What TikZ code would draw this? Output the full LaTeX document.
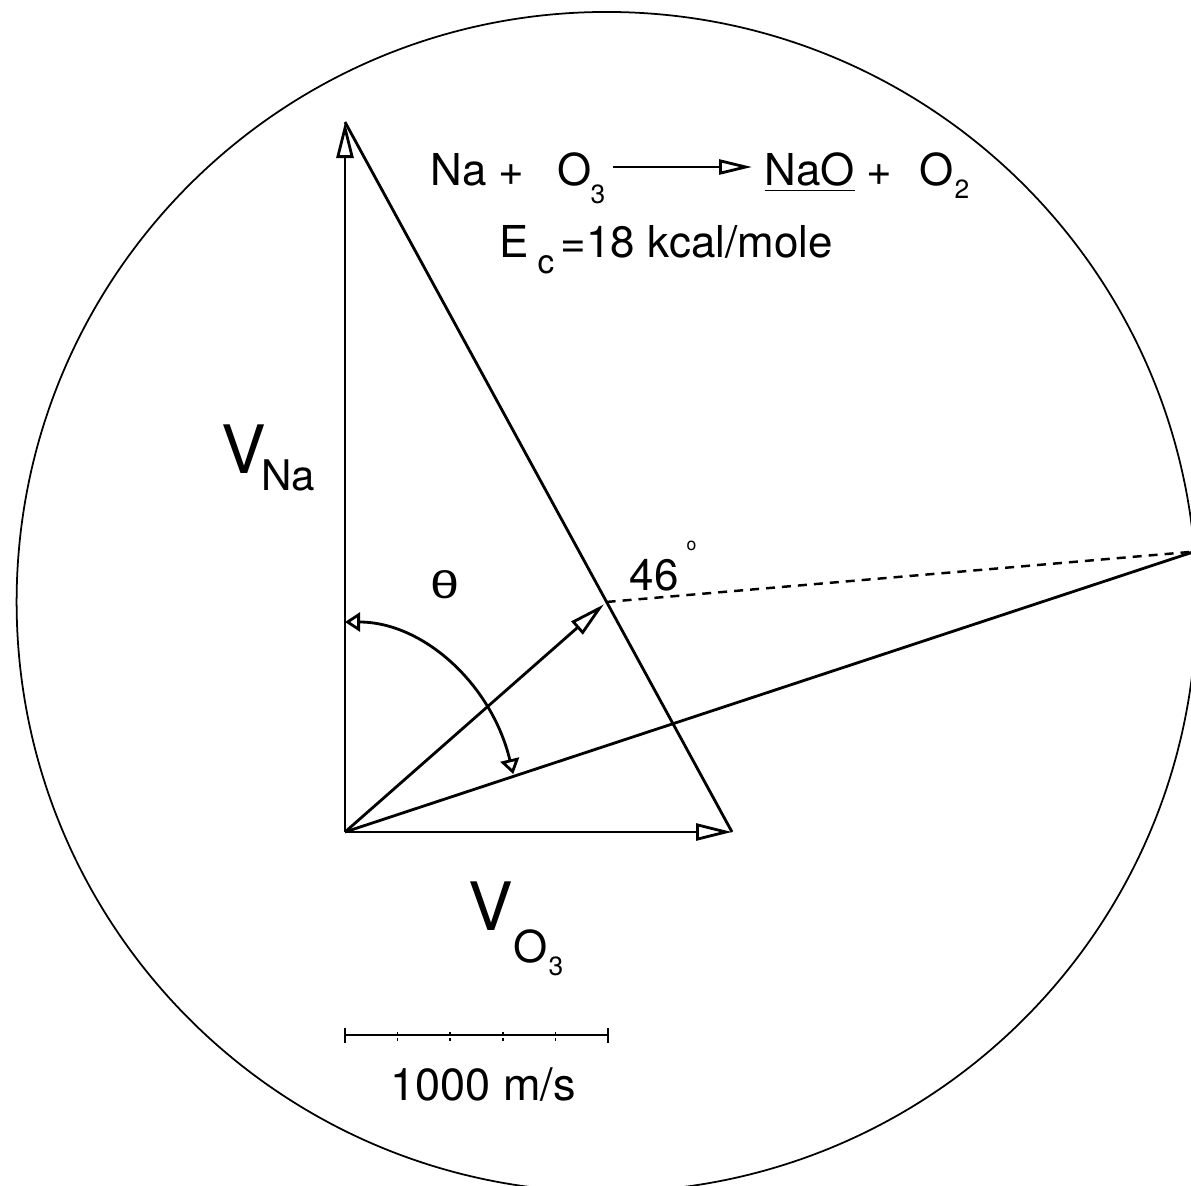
\documentclass[tikz,border=0pt]{standalone}
\usepackage{fontspec}
\setmainfont{TeX Gyre Heros}
\newfontfamily\greekfont{Liberation Sans}
\usetikzlibrary{arrows.meta,calc}

\tikzset{
  vec/.style={line width=0.8pt, -{Triangle[open,length=3.6mm,width=1.7mm,line width=0.8pt]}},
  anglearrow/.style={line width=0.8pt, {Triangle[open,length=1.5mm,width=1.9mm,line width=0.8pt]}-{Triangle[open,length=1.5mm,width=1.9mm,line width=0.8pt]}},
  lbl/.style={inner sep=0pt, anchor=base west},
}
\newcommand{\fs}[1]{\fontsize{#1}{#1}\selectfont}

\begin{document}
\begin{tikzpicture}
\useasboundingbox (0,0) rectangle (11.91,11.85);
% velocity triangle
\coordinate (o) at (3.45,3.53);
\coordinate (vna) at (3.45,10.63);
\coordinate (vo3) at (7.32,3.53);
\coordinate (cm) at ($(vna)!0.676!(vo3)$);
\coordinate (far) at ($(cm)+(4.9:5.90)$);
\draw[line width=0.5pt] (cm) circle (5.90);
\draw[vec] (o) -- (vna);
\draw[vec] (o) -- (vo3);
\draw[line width=0.8pt] (vna) -- (vo3);
\draw[vec, shorten >=1pt] (o) -- (cm);
\draw[line width=0.7pt, dash pattern=on 0.9mm off 0.7mm] (cm) -- (far);
\draw[line width=0.8pt] (o) -- (far);
\draw[anglearrow] ($(o)+(0,2.10)$) arc[start angle=90, end angle=16, x radius=1.75, y radius=2.10];

% labels
\node[lbl] (vbig) at (2.21,7.12) {\fs{19}V};
\node[lbl] (vnasub) at (2.61,6.95) {\fs{12}Na};
\node[lbl] (vobig) at (4.68,2.55) {\fs{19}V};
\node[lbl] (vosub) at (5.13,2.23) {\fs{12.5}O};
\node[lbl] (vosubb) at (5.48,2.10) {\fs{7.5}3};
\node (theta) at (4.45,6.00) {\greekfont\fs{11}\scalebox{1.35}[1]{θ}};
\node[lbl] (ang) at (6.29,5.95) {\fs{12.5}46};
\node[lbl] (deg) at (6.86,6.35) {\fs{5}o};

% reaction
\node[lbl] (na) at (4.30,10.00) {\fs{12.5}Na +};
\node[lbl] (oz) at (5.57,10.00) {\fs{12.5}O};
\node[lbl] (ozsub) at (5.90,9.82) {\fs{7.5}3};
\node[lbl] (nao) at (7.64,10.00) {\fs{12.5}\underline{NaO}};
\node[lbl] (plus) at (8.66,10.00) {\fs{12.5}+};
\node[lbl] (otwo) at (9.19,10.00) {\fs{12.5}O};
\node[lbl] (otwosub) at (9.54,9.87) {\fs{7.5}2};
\coordinate (rxs) at (6.13,10.18);
\coordinate (rxe) at (7.52,10.18);
\draw[line width=0.6pt, -{Triangle[open,length=3.3mm,width=1.5mm,line width=0.8pt]}] (rxs) -- (rxe);
\node[lbl] (ec) at (4.99,9.28) {\fs{12.5}E};
\node[lbl] (ecsub) at (5.37,9.12) {\fs{9.5}c};
\node[lbl] (ecval) at (5.60,9.28) {\fs{12.5}=18 kcal/mole};

% scale bar
\coordinate (sb0) at (3.45,1.50);
\coordinate (sb5) at (6.08,1.50);
\draw[line width=0.7pt] (sb0) -- (sb5);
\draw[line width=0.5pt] (sb0) ++(0,-0.075) -- ++(0,0.15);
\draw[line width=0.5pt] (sb5) ++(0,-0.075) -- ++(0,0.15);
\foreach \i in {1,...,4}
  \draw[line width=0.4pt, dash pattern=on 0.3mm off 0.3mm] ($(sb0)!\i/5!(sb5)+(0,-0.06)$) -- ++(0,0.12);
\node[lbl] (unit) at (3.90,0.85) {\fs{12.8}1000 m/s};
\end{tikzpicture}
\end{document}
